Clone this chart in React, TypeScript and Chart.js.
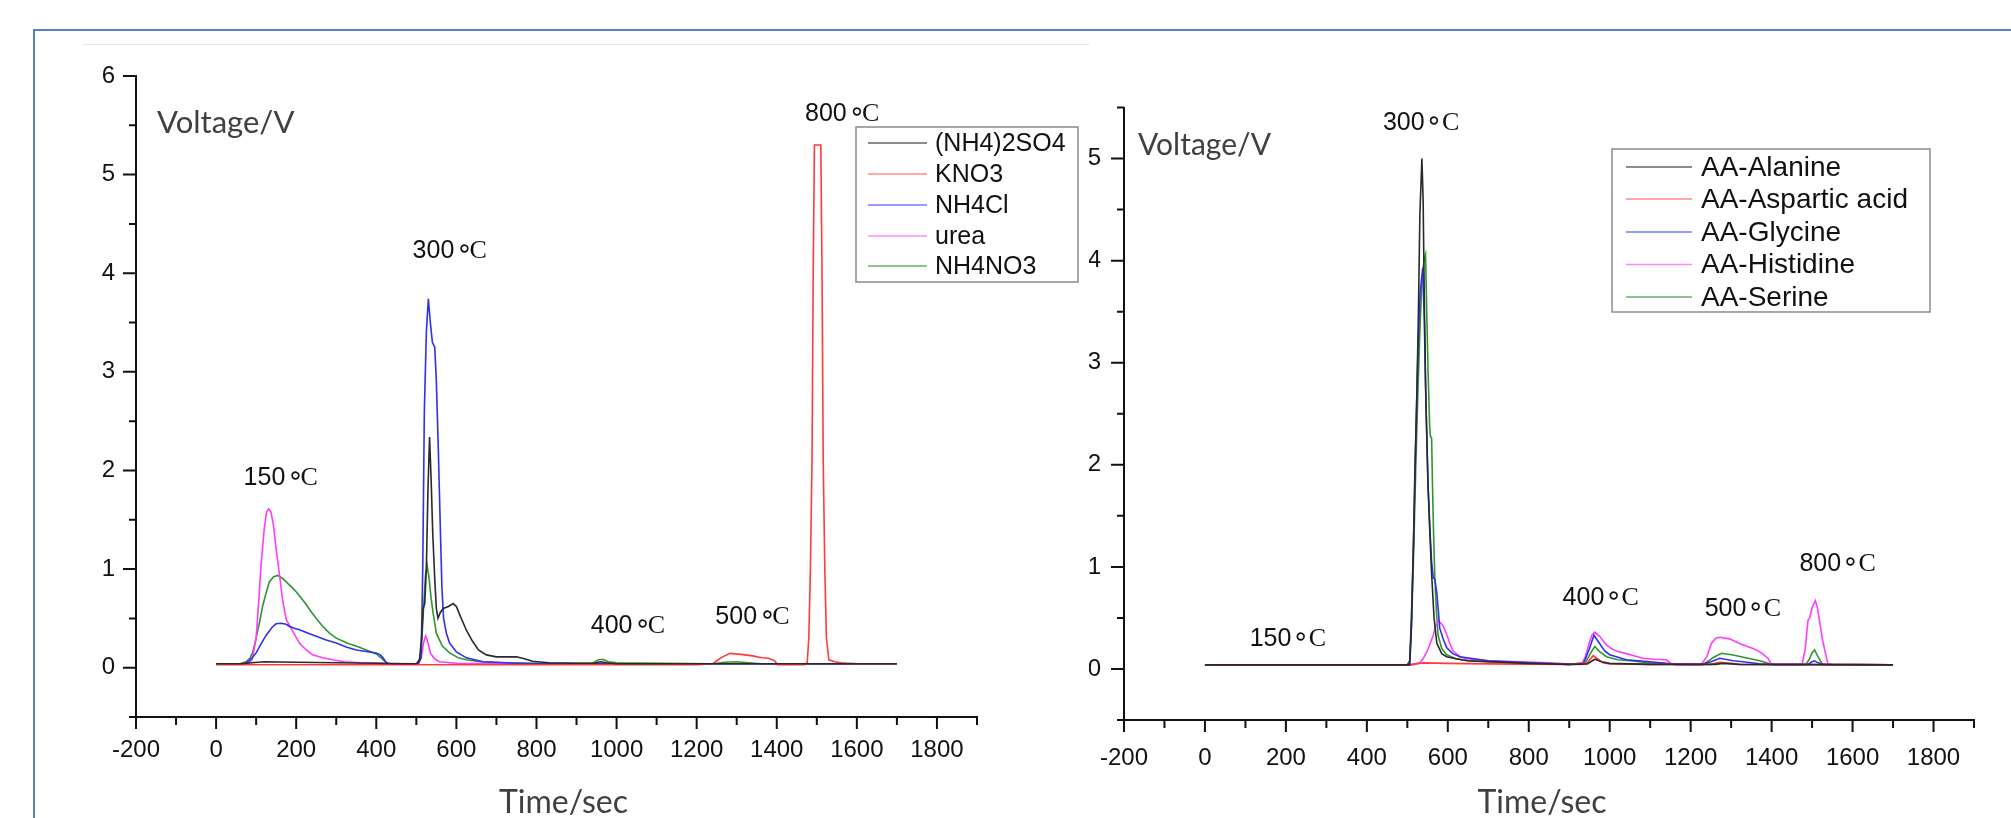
import React, { useEffect, useRef } from "react";
import { Chart, registerables } from "chart.js";
Chart.register(...registerables);

// ---------------- Left panel: inorganic nitrogen compounds ----------------
const so4T = [0, 60, 90, 120, 200, 300, 400, 450, 500, 508, 513, 517, 521, 525, 529, 533, 537, 541, 546, 550, 554, 560, 567, 580, 592, 600, 610, 625, 640, 655, 675, 700, 730, 750, 770, 790, 830, 900, 945, 960, 975, 1000, 1700];
const so4V = [0.04, 0.04, 0.05, 0.06, 0.055, 0.05, 0.045, 0.04, 0.04, 0.08, 0.3, 0.6, 0.65, 1.0, 1.8, 2.34, 1.9, 1.36, 0.9, 0.6, 0.5, 0.56, 0.6, 0.62, 0.65, 0.62, 0.52, 0.38, 0.27, 0.18, 0.13, 0.11, 0.11, 0.11, 0.09, 0.065, 0.05, 0.045, 0.045, 0.06, 0.05, 0.04, 0.04];

const kno3T = [0, 300, 600, 900, 1200, 1240, 1260, 1283, 1310, 1340, 1362, 1380, 1395, 1402, 1470, 1476, 1480, 1484, 1488, 1491, 1494, 1510, 1513, 1516, 1520, 1524, 1530, 1545, 1560, 1600, 1700];
const kno3V = [0.03, 0.03, 0.03, 0.03, 0.03, 0.04, 0.1, 0.145, 0.135, 0.12, 0.1, 0.095, 0.07, 0.03, 0.03, 0.05, 0.3, 1.0, 2.1, 4.0, 5.3, 5.3, 4.0, 2.1, 1.0, 0.3, 0.08, 0.06, 0.05, 0.04, 0.04];

const nh4clT = [0, 70, 80, 90, 100, 112, 125, 140, 150, 162, 175, 183, 195, 208, 230, 250, 275, 300, 325, 350, 375, 400, 410, 417, 423, 430, 505, 512, 516, 520, 525, 530, 535, 540, 546, 550, 555, 560, 564, 568, 575, 583, 600, 625, 667, 750, 800, 1700];
const nh4clV = [0.04, 0.04, 0.06, 0.1, 0.15, 0.24, 0.33, 0.41, 0.445, 0.45, 0.44, 0.42, 0.4, 0.385, 0.35, 0.32, 0.28, 0.25, 0.21, 0.18, 0.165, 0.15, 0.13, 0.1, 0.06, 0.04, 0.04, 0.1, 1.0, 2.6, 3.4, 3.74, 3.5, 3.3, 3.25, 2.9, 2.2, 1.4, 0.8, 0.5, 0.35, 0.25, 0.16, 0.1, 0.06, 0.045, 0.04, 0.04];

const ureaT = [0, 80, 90, 100, 107, 112, 120, 126, 131, 137, 143, 150, 158, 166, 175, 191, 208, 225, 241, 266, 291, 320, 360, 420, 505, 512, 518, 523, 528, 535, 545, 558, 600, 700, 1700];
const ureaV = [0.04, 0.04, 0.08, 0.3, 0.7, 1.03, 1.4, 1.58, 1.61, 1.58, 1.45, 1.2, 0.95, 0.69, 0.49, 0.37, 0.25, 0.18, 0.13, 0.1, 0.08, 0.06, 0.05, 0.045, 0.04, 0.1, 0.25, 0.32, 0.27, 0.15, 0.09, 0.06, 0.045, 0.04, 0.04];

const nh4no3T = [0, 60, 75, 85, 91, 100, 108, 116, 125, 133, 143, 154, 165, 175, 188, 200, 212, 225, 237, 250, 266, 283, 300, 316, 333, 350, 375, 400, 412, 420, 429, 505, 512, 518, 523, 527, 532, 537, 542, 550, 565, 583, 605, 625, 660, 720, 800, 940, 955, 965, 980, 1000, 1240, 1270, 1300, 1330, 1360, 1700];
const nh4no3V = [0.04, 0.04, 0.06, 0.1, 0.15, 0.3, 0.45, 0.62, 0.76, 0.87, 0.92, 0.935, 0.91, 0.87, 0.82, 0.77, 0.71, 0.64, 0.57, 0.5, 0.42, 0.35, 0.3, 0.27, 0.24, 0.22, 0.18, 0.14, 0.1, 0.07, 0.04, 0.04, 0.15, 0.6, 0.95, 1.04, 0.9, 0.7, 0.55, 0.35, 0.22, 0.15, 0.1, 0.08, 0.06, 0.05, 0.045, 0.045, 0.08, 0.085, 0.06, 0.05, 0.04, 0.055, 0.06, 0.05, 0.04, 0.04];

const leftNames = ["(NH4)2SO4", "KNO3", "NH4Cl", "urea", "NH4NO3"];
const leftAnnText = ["150", "300", "400", "500", "800"];
const leftAnnT = [161, 583, 1028, 1339, 1563];
const leftAnnV = [1.94, 4.25, 0.44, 0.53, 5.63];

// ---------------- Right panel: amino acids ----------------
const alaT = [0, 500, 506, 510, 515, 519, 523, 527, 531, 536, 539, 542, 545, 548, 551, 556, 560, 566, 573, 585, 597, 620, 650, 700, 800, 900, 945, 963, 980, 1000, 1100, 1260, 1280, 1320, 1700];
const alaV = [0.04, 0.04, 0.04, 0.4, 1.2, 2.0, 2.6, 3.4, 4.45, 5.0, 4.6, 3.6, 2.8, 2.3, 1.8, 1.3, 0.93, 0.5, 0.25, 0.15, 0.12, 0.1, 0.08, 0.07, 0.055, 0.045, 0.05, 0.095, 0.07, 0.055, 0.045, 0.045, 0.055, 0.045, 0.04];

const aspT = [0, 500, 520, 540, 600, 700, 900, 945, 959, 970, 983, 1000, 1100, 1250, 1272, 1300, 1320, 1700];
const aspV = [0.04, 0.04, 0.05, 0.06, 0.055, 0.05, 0.045, 0.06, 0.13, 0.1, 0.06, 0.05, 0.045, 0.045, 0.065, 0.055, 0.045, 0.04];

const glyT = [0, 500, 506, 510, 515, 519, 523, 527, 532, 538, 542, 546, 551, 556, 560, 564, 568, 573, 577, 580, 588, 597, 612, 630, 700, 800, 900, 935, 950, 961, 975, 987, 1000, 1041, 1100, 1150, 1230, 1250, 1272, 1305, 1340, 1370, 1400, 1490, 1500, 1506, 1515, 1525, 1700];
const glyV = [0.04, 0.04, 0.08, 0.5, 1.2, 1.9, 2.6, 3.2, 3.7, 3.93, 3.4, 2.6, 1.83, 1.35, 1.05, 0.89, 0.88, 0.74, 0.55, 0.4, 0.3, 0.21, 0.15, 0.12, 0.08, 0.06, 0.045, 0.05, 0.2, 0.33, 0.25, 0.18, 0.14, 0.09, 0.07, 0.05, 0.045, 0.07, 0.105, 0.08, 0.065, 0.05, 0.045, 0.045, 0.07, 0.08, 0.06, 0.045, 0.04];

const hisT = [0, 514, 530, 539, 552, 564, 570, 576, 583, 589, 597, 605, 613, 630, 646, 700, 780, 850, 920, 930, 940, 949, 956, 963, 975, 992, 1004, 1020, 1041, 1060, 1082, 1110, 1140, 1153, 1165, 1225, 1240, 1251, 1262, 1272, 1296, 1321, 1340, 1354, 1370, 1378, 1391, 1399, 1410, 1475, 1483, 1490, 1494, 1500, 1508, 1513, 1518, 1525, 1531, 1539, 1550, 1700];
const hisV = [0.04, 0.04, 0.06, 0.1, 0.2, 0.33, 0.42, 0.47, 0.45, 0.42, 0.34, 0.25, 0.175, 0.12, 0.1, 0.08, 0.07, 0.06, 0.045, 0.045, 0.12, 0.25, 0.33, 0.36, 0.32, 0.235, 0.2, 0.17, 0.15, 0.13, 0.105, 0.095, 0.09, 0.05, 0.04, 0.04, 0.12, 0.25, 0.3, 0.31, 0.295, 0.25, 0.22, 0.2, 0.17, 0.147, 0.105, 0.05, 0.04, 0.04, 0.2, 0.48, 0.5, 0.6, 0.67, 0.6, 0.48, 0.3, 0.19, 0.05, 0.04, 0.04];

const serT = [0, 500, 506, 511, 516, 521, 526, 531, 536, 541, 545, 548, 551, 555, 557, 560, 562, 565, 568, 572, 576, 585, 597, 620, 650, 700, 800, 900, 940, 952, 963, 975, 992, 1020, 1050, 1100, 1150, 1230, 1245, 1255, 1276, 1305, 1330, 1354, 1375, 1387, 1400, 1485, 1494, 1500, 1506, 1512, 1519, 1525, 1535, 1700];
const serV = [0.04, 0.04, 0.08, 0.5, 1.2, 2.0, 2.7, 3.3, 3.8, 4.0, 4.06, 3.5, 2.95, 2.4, 2.28, 2.26, 1.83, 1.3, 0.89, 0.55, 0.33, 0.2, 0.14, 0.1, 0.08, 0.07, 0.06, 0.045, 0.06, 0.15, 0.22, 0.17, 0.12, 0.09, 0.08, 0.06, 0.05, 0.045, 0.08, 0.11, 0.154, 0.137, 0.115, 0.095, 0.075, 0.06, 0.045, 0.045, 0.1, 0.16, 0.186, 0.14, 0.09, 0.05, 0.045, 0.04];

const rightNames = ["AA-Alanine", "AA-Aspartic acid", "AA-Glycine", "AA-Histidine", "AA-Serine"];
const rightAnnText = ["150", "300", "400", "500", "800"];
const rightAnnT = [202, 531, 975, 1326, 1560];
const rightAnnV = [0.31, 5.37, 0.71, 0.61, 1.05];

// ---------------- styles ----------------
const COLORS = ["#2a2a2a", "#ff3b3b", "#3030f0", "#ff3cff", "#2f962f"];
const LEGEND_COLORS = ["#666666", "#ff8a8a", "#7a7aff", "#ff88ff", "#66b066"];

function pts(t: number[], v: number[]) {
  return t.map((x, i) => ({ x, y: v[i] }));
}

const decorPlugin = {
  id: "decor",
  afterDraw(chart: any, _args: any, o: any) {
    const ctx = chart.ctx;
    const xs = chart.scales.x;
    const ys = chart.scales.y;
    const ca = chart.chartArea;
    ctx.save();
    // tick marks
    ctx.strokeStyle = "#111";
    ctx.lineWidth = 2;
    ctx.beginPath();
    for (let k = 0; ; k++) {
      const v = ys.min + k * 0.5;
      if (v > ys.max + 1e-9) break;
      const py = ys.getPixelForValue(v);
      const len = Math.abs(v - Math.round(v)) < 1e-9 ? 13 : 7;
      ctx.moveTo(ca.left - len, py);
      ctx.lineTo(ca.left, py);
    }
    for (let k = 0; ; k++) {
      const v = xs.min + k * 100;
      if (v > xs.max + 1e-9) break;
      const px = xs.getPixelForValue(v);
      const len = Math.round(v) % 200 === 0 ? 12 : 8;
      ctx.moveTo(px, ca.bottom);
      ctx.lineTo(px, ca.bottom + len);
    }
    ctx.stroke();

    // axis titles
    ctx.fillStyle = "#404040";
    ctx.font = `${o.vFont}px Lato`;
    ctx.textAlign = "left";
    ctx.textBaseline = "alphabetic";
    ctx.fillText("Voltage/V", ca.left + o.vDx, ca.top + o.vDy);
    ctx.font = "32px Lato";
    ctx.textAlign = "center";
    ctx.textBaseline = "middle";
    ctx.fillText("Time/sec", (ca.left + ca.right) / 2 + o.tDx, 803);

    // temperature annotations
    ctx.textBaseline = "alphabetic";
    ctx.fillStyle = "#111";
    o.annText.forEach((txt: string, i: number) => {
      const cx = xs.getPixelForValue(o.annT[i]);
      const cy = ys.getPixelForValue(o.annV[i]);
      const left = cx - 37;
      const base = cy + 9;
      ctx.font = "25px 'Liberation Sans'";
      ctx.textAlign = "left";
      ctx.fillText(txt, left, base);
      ctx.font = "27px 'DejaVu Sans'";
      ctx.textAlign = "center";
      ctx.fillText("\u2218", left + o.ringDx, base - 1);
      ctx.font = "26px 'Liberation Serif'";
      ctx.textAlign = "left";
      ctx.fillText("C", left + o.cDx, base);
    });

    // legend
    const L = o.legend;
    ctx.strokeStyle = "#8a8a8a";
    ctx.lineWidth = 1.5;
    ctx.strokeRect(L.x1, L.y1, L.x2 - L.x1, L.y2 - L.y1);
    ctx.textAlign = "left";
    ctx.textBaseline = "middle";
    ctx.font = `${L.font}px 'Liberation Sans'`;
    chart.data.datasets.forEach((ds: any, i: number) => {
      const y = L.rows[i];
      ctx.strokeStyle = LEGEND_COLORS[i];
      ctx.lineWidth = 1.5;
      ctx.beginPath();
      ctx.moveTo(L.lx1, y);
      ctx.lineTo(L.lx2, y);
      ctx.stroke();
      ctx.fillStyle = "#111";
      ctx.fillText(ds.label, L.tx, y + 1);
    });
    ctx.restore();
  },
};

function makeConfig(
  series: { t: number[]; v: number[] }[],
  names: string[],
  yMax: number,
  yWidth: number,
  pad: { right: number; top: number },
  xHeight: number,
  tickPad: number,
  xLabelLH: number,
  decor: any
): any {
  return {
    type: "line",
    data: {
      datasets: series.map((s, i) => ({
        label: names[i],
        data: pts(s.t, s.v),
        borderColor: COLORS[i],
        borderWidth: 1.6,
        pointRadius: 0,
        tension: 0,
        fill: false,
      })),
    },
    options: {
      animation: false,
      responsive: false,
      maintainAspectRatio: false,
      layout: { padding: { left: 0, right: pad.right, top: pad.top, bottom: 0 } },
      plugins: {
        legend: { display: false },
        tooltip: { enabled: false },
        decor,
      },
      scales: {
        x: {
          type: "linear",
          min: -200,
          max: 1900,
          afterFit: (s: any) => {
            s.height = xHeight;
          },
          grid: { display: true, drawOnChartArea: false, drawTicks: false },
          border: { display: true, color: "#111", width: 2 },
          ticks: {
            stepSize: 100,
            autoSkip: false,
            maxRotation: 0,
            padding: 8,
            color: "#111",
            font: { family: "'Liberation Sans'", size: 24, lineHeight: xLabelLH },
            callback: (v: number) => (Math.round(v) % 200 === 0 && v <= 1800 ? String(v) : ""),
          },
        },
        y: {
          type: "linear",
          min: -0.5,
          max: yMax,
          afterFit: (s: any) => {
            s.width = yWidth;
          },
          grid: { display: true, drawOnChartArea: false, drawTicks: false },
          border: { display: true, color: "#111", width: 2 },
          ticks: {
            stepSize: 0.5,
            autoSkip: false,
            padding: tickPad,
            color: "#111",
            font: { family: "'Liberation Sans'", size: 24 },
            callback: (v: number) => (Math.abs(v - Math.round(v)) < 1e-9 ? String(Math.round(v)) : ""),
          },
        },
      },
    },
    plugins: [decorPlugin],
  };
}

export default function App() {
  const leftRef = useRef<HTMLCanvasElement | null>(null);
  const rightRef = useRef<HTMLCanvasElement | null>(null);

  useEffect(() => {
    const left = new Chart(
      leftRef.current as HTMLCanvasElement,
      makeConfig(
        [
          { t: so4T, v: so4V },
          { t: kno3T, v: kno3V },
          { t: nh4clT, v: nh4clV },
          { t: ureaT, v: ureaV },
          { t: nh4no3T, v: nh4no3V },
        ],
        leftNames,
        6,
        136,
        { right: 112, top: 76 },
        113,
        21,
        2.117,
        {
          vFont: 31,
          vDx: 21,
          vDy: 57,
          tDx: 7,
          annText: leftAnnText,
          annT: leftAnnT,
          annV: leftAnnV,
          ringDx: 52,
          cDx: 57,
          legend: {
            x1: 856, y1: 127, x2: 1078, y2: 282,
            lx1: 868, lx2: 927, tx: 935, font: 25,
            rows: [143, 174, 205, 236, 266],
          },
        }
      )
    );
    const right = new Chart(
      rightRef.current as HTMLCanvasElement,
      makeConfig(
        [
          { t: alaT, v: alaV },
          { t: aspT, v: aspV },
          { t: glyT, v: glyV },
          { t: hisT, v: hisV },
          { t: serT, v: serV },
        ],
        rightNames,
        5.5,
        35,
        { right: 37, top: 107.5 },
        110,
        23,
        2.533,
        {
          vFont: 30,
          vDx: 14,
          vDy: 47,
          tDx: -7,
          annText: rightAnnText,
          annT: rightAnnT,
          annV: rightAnnV,
          ringDx: 51,
          cDx: 59,
          legend: {
            x1: 523, y1: 149, x2: 841, y2: 312,
            lx1: 537, lx2: 603, tx: 612, font: 28,
            rows: [167, 199, 232, 264.5, 297],
          },
        }
      )
    );
    return () => {
      left.destroy();
      right.destroy();
    };
  }, []);

  return (
    <div
      style={{
        position: "fixed",
        left: 0,
        top: 0,
        width: 2011,
        height: 818,
        overflow: "hidden",
        background: "#ffffff",
      }}
    >
      <div
        style={{
          position: "absolute",
          left: 33,
          top: 29,
          width: 2100,
          height: 900,
          border: "2px solid #5682c3",
          boxSizing: "border-box",
        }}
      />
      <div
        style={{
          position: "absolute",
          left: 83,
          top: 44,
          width: 1007,
          height: 1,
          background: "#e6e6e6",
        }}
      />
      <canvas
        ref={leftRef}
        width={1089}
        height={830}
        style={{ position: "absolute", left: 0, top: 0, width: 1089, height: 830, display: "block" }}
      />
      <canvas
        ref={rightRef}
        width={922}
        height={830}
        style={{ position: "absolute", left: 1089, top: 0, width: 922, height: 830, display: "block" }}
      />
    </div>
  );
}
